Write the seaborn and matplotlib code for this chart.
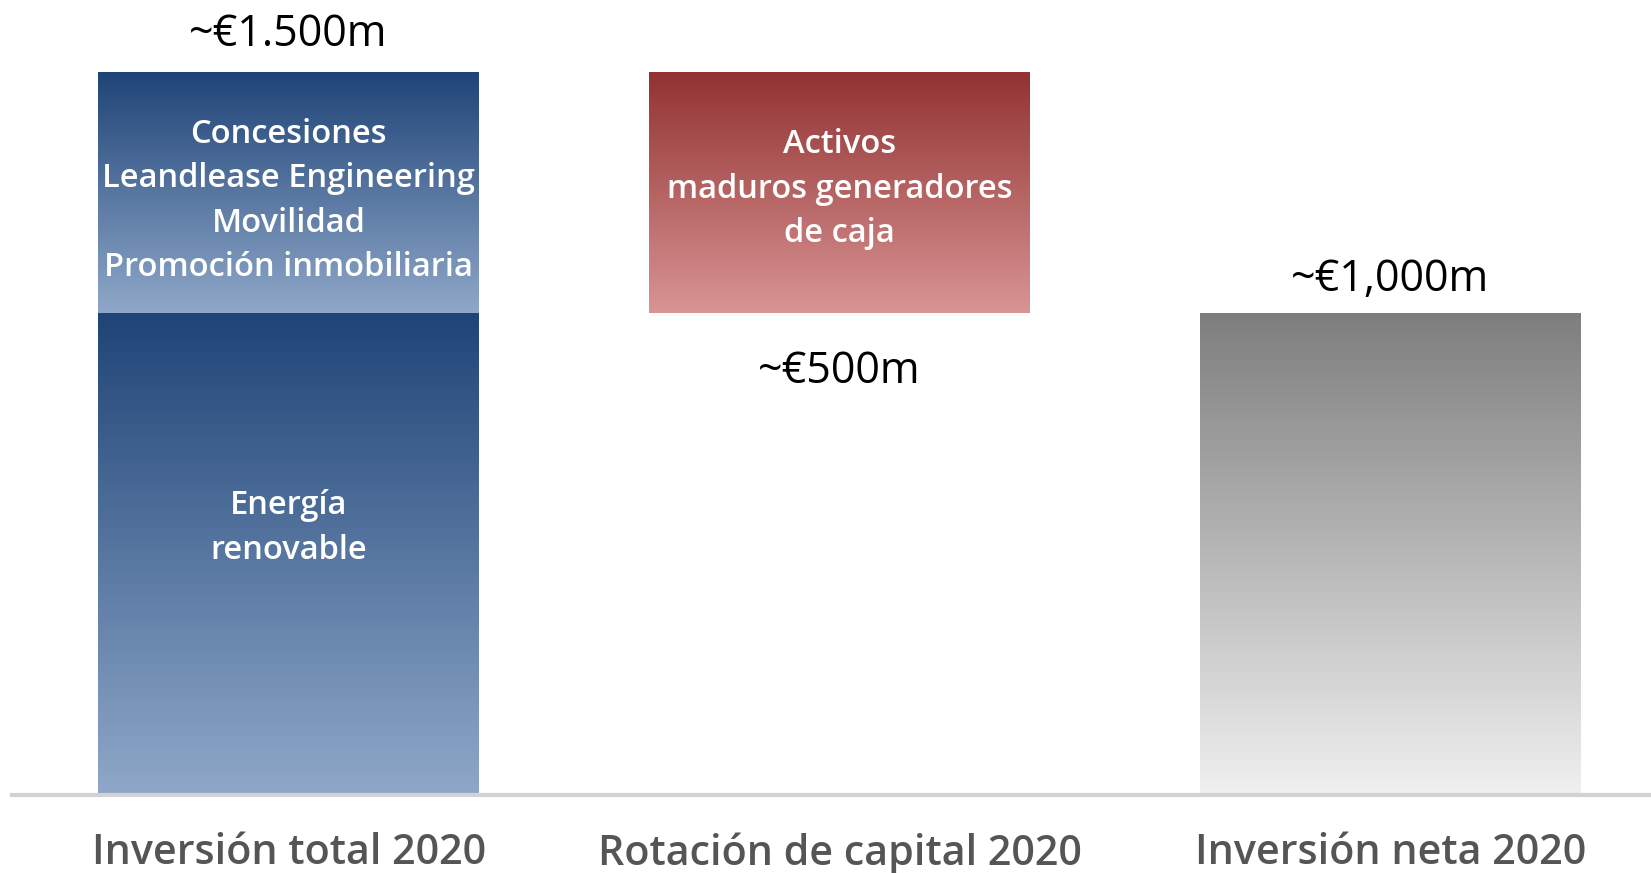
import numpy as np
import pandas as pd
import seaborn as sns
import matplotlib.pyplot as plt
from matplotlib.colors import LinearSegmentedColormap


#====================================================================================================
# data
categorias = ["Inversión total 2020", "Rotación de capital 2020", "Inversión neta 2020"]

tramo_categoria = ["Inversión total 2020", "Inversión total 2020", "Rotación de capital 2020", "Inversión neta 2020"]
tramo_base      = [0, 1000, 1000, 0]
tramo_valor     = [1000, 500, 500, 1000]
tramo_texto     = [
    "Energía\nrenovable",
    "Concesiones\nLeandlease Engineering\nMovilidad\nPromoción inmobiliaria",
    "Activos\nmaduros generadores\nde caja",
    "",
]

totales_texto = ["~€1.500m", "~€500m", "~€1,000m"]
totales_valor = [1500, 1000, 1000]
#====================================================================================================


# styles
gradientes = [
    ("#1f4477", "#8fa8c9"),
    ("#1f4477", "#8fa8c9"),
    ("#923232", "#d99494"),
    ("#7e7e7e", "#f0f0f0"),
]
texto_frac   = [0.554, 0.466, 0.515, 0.5]
total_offset = [27, -42, 24]     # points, + above bar top / - below

sns.set_theme(style="white")
plt.rcParams['font.family'] = ['Open Sans', 'DejaVu Sans']

df = pd.DataFrame({
    "categoria": tramo_categoria,
    "base":      tramo_base,
    "valor":     tramo_valor,
    "texto":     tramo_texto,
})

fig = plt.figure(figsize=(16.51, 8.73), dpi=100)
ax = fig.add_axes([12/1651, 78/873, 1 - 12/1651, 795/873])

ancho = 0.69
barras = []
for i in range(len(df)):
    sns.barplot(data=df.iloc[[i]], x="categoria", y="valor", order=categorias,
                width=ancho, errorbar=None, color=gradientes[i][0], ax=ax)
    p = ax.patches[-1]
    p.set_y(df["base"].iloc[i])
    barras.append(p)

# gradient fill on each bar
grad = np.linspace(0, 1, 256).reshape(-1, 1)
for p, (c_top, c_bot), txt, frac in zip(barras, gradientes, df["texto"], texto_frac):
    x0, y0, w, h = p.get_x(), p.get_y(), p.get_width(), p.get_height()
    cmap = LinearSegmentedColormap.from_list("g", [c_bot, c_top])
    ax.imshow(grad, extent=[x0, x0 + w, y0, y0 + h], origin="lower",
              cmap=cmap, aspect="auto", zorder=2, interpolation="bilinear")
    p.set_visible(False)
    if txt:
        ax.text(x0 + w / 2, y0 + h * frac, txt, ha="center", va="center",
                color="white", fontsize=23.5, fontweight="semibold",
                linespacing=1.45, zorder=3)

# totals
for i, (t, v, off) in enumerate(zip(totales_texto, totales_valor, total_offset)):
    ax.annotate(t, xy=(i, v), xytext=(0, off), textcoords="offset points",
                ha="center", va="center", fontsize=31, color="black", zorder=3)

ax.set_xlim(-0.502, 2.473)
ax.set_ylim(0, 1650)
ax.set_xlabel("")
ax.set_ylabel("")
ax.set_yticks([])
for s in ["top", "right", "left"]:
    ax.spines[s].set_visible(False)
ax.spines["bottom"].set_color("#d2d2d2")
ax.spines["bottom"].set_linewidth(3)
ax.spines["bottom"].set_zorder(4)
ax.tick_params(axis="x", length=0, pad=27, labelsize=29.7, labelcolor="#555555")
for lab in ax.get_xticklabels():
    lab.set_fontweight("semibold")

plt.savefig("out.png", dpi=100)
